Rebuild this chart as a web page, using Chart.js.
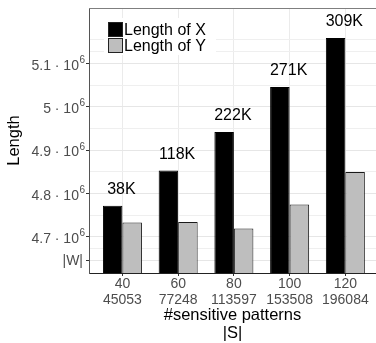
<!DOCTYPE html>
<html>
<head>
<meta charset="utf-8">
<script src="https://cdn.jsdelivr.net/npm/chart.js@4.4.1/dist/chart.umd.min.js"></script>
<style>
  html, body { margin: 0; padding: 0; background: #fff; overflow: hidden; }
  #wrap { width: 376px; height: 343px; }
</style>
</head>
<body>
<div id="wrap"><canvas id="chart" width="376" height="343"></canvas></div>
<script>
// data
const categories = ['40', '60', '80', '100', '120'];
const sizesW = ['45053', '77248', '113597', '153508', '196084'];
const lengthX = [4771400, 4853000, 4941600, 5045400, 5158500];
const lengthY = [4732900, 4733800, 4719000, 4774400, 4849200];
const barLabels = ['38K', '118K', '222K', '271K', '309K'];
const seriesNames = ['Length of X', 'Length of Y'];

// y axis: |W| is an extra break at the bottom
const W = 4644000;
const yMajor = [W, 4700000, 4800000, 4900000, 5000000, 5100000];
const yTickText = ['|W|', '4.7 \u00b7 10', '4.8 \u00b7 10', '4.9 \u00b7 10', '5 \u00b7 10', '5.1 \u00b7 10'];
const yTickExp = ['', '6', '6', '6', '6', '6'];
const yMinor = [4672000, 4750000, 4850000, 4950000, 5050000, 5128000, 5156000];

const FONT = '"Liberation Sans", Arial, sans-serif';
const tickGray = '#4d4d4d';

const xs = categories.map((c, i) => i);

// y tick labels with a raised exponent
const yLabelPlugin = {
  id: 'yLabels',
  afterDraw(chart) {
    const ctx = chart.ctx;
    const y = chart.scales.y;
    const left = chart.chartArea.left;
    ctx.save();
    ctx.fillStyle = tickGray;
    ctx.textAlign = 'right';
    ctx.textBaseline = 'middle';
    yMajor.forEach((v, i) => {
      const py = y.getPixelForValue(v);
      if (!yTickExp[i]) {
        ctx.font = '14px ' + FONT;
        ctx.fillText(yTickText[i], left - 6, py);
        return;
      }
      ctx.font = '10px ' + FONT;
      ctx.fillText(yTickExp[i], left - 4, py - 3);
      const sw = ctx.measureText(yTickExp[i]).width;
      ctx.font = '14px ' + FONT;
      ctx.fillText(yTickText[i], left - 4 - sw - 0.5, py + 2.5);
    });
    ctx.restore();
  }
};

// value labels above the black bars, legend inside the panel, top border
const extrasPlugin = {
  id: 'extras',
  afterDatasetsDraw(chart) {
    const ctx = chart.ctx;
    const area = chart.chartArea;
    const meta = chart.getDatasetMeta(0);
    const x = chart.scales.x;
    ctx.save();
    ctx.fillStyle = '#000';
    ctx.font = '16px ' + FONT;
    ctx.textAlign = 'center';
    ctx.textBaseline = 'middle';
    meta.data.forEach((bar, i) => {
      ctx.fillText(barLabels[i], x.getPixelForValue(xs[i]) - 1, bar.y - 16);
    });

    // legend
    const lx = area.left + 19, ly = area.top + 14, key = 15;
    ctx.fillStyle = '#fff';
    ctx.fillRect(area.left + 15, area.top + 10, 112, 37);
    chart.data.datasets.forEach((ds, i) => {
      ctx.fillStyle = ds.backgroundColor;
      ctx.fillRect(lx, ly + i * (key + 1), key, key);
      ctx.strokeStyle = '#222';
      ctx.lineWidth = 1;
      ctx.strokeRect(lx + 0.5, ly + i * (key + 1) + 0.5, key - 1, key - 1);
      ctx.fillStyle = '#000';
      ctx.textAlign = 'left';
      ctx.fillText(ds.label, lx + key + 1, ly + i * (key + 1) + key / 2 + 1);
    });

    ctx.strokeStyle = '#7f7f7f';
    ctx.lineWidth = 1;
    ctx.beginPath();
    ctx.moveTo(area.left, area.top + 0.5);
    ctx.lineTo(area.right, area.top + 0.5);
    ctx.stroke();
    ctx.restore();
  }
};

new Chart(document.getElementById('chart'), {
  type: 'bar',
  data: {
    datasets: [
      {
        label: seriesNames[0],
        data: xs.map((v, i) => ({ x: v, y: lengthX[i] })),
        backgroundColor: '#000000',
        borderColor: '#000000',
        borderWidth: 1
      },
      {
        label: seriesNames[1],
        data: xs.map((v, i) => ({ x: v, y: lengthY[i] })),
        backgroundColor: '#bebebe',
        borderColor: '#1a1a1a',
        borderWidth: 1
      }
    ]
  },
  options: {
    responsive: false,
    animation: false,
    devicePixelRatio: 1,
    layout: { padding: { top: 8, right: 0, left: 0, bottom: 0 } },
    categoryPercentage: 0.7,
    barPercentage: 1.0,
    plugins: { legend: { display: false }, tooltip: { enabled: false } },
    scales: {
      x: {
        type: 'linear',
        offset: false,
        min: -0.6,
        max: 4.55,
        afterBuildTicks: s => { s.ticks = xs.map(v => ({ value: v })); },
        afterFit: s => { s.height = 70; },
        ticks: {
          callback: v => [categories[v], sizesW[v]],
          color: tickGray,
          font: { family: FONT, size: 14, lineHeight: 1.15 },
          padding: 0,
          maxRotation: 0,
          autoSkip: false
        },
        grid: { offset: false, color: '#ebebeb', tickColor: '#333', tickLength: 3 },
        border: { color: '#222', width: 1 },
        title: {
          display: true,
          text: ['#sensitive patterns', '|S|'],
          color: '#000',
          font: { family: FONT, size: 16.5, lineHeight: 1.1 },
          padding: { top: 0, bottom: 0 }
        }
      },
      y: {
        min: W - 27800,
        max: 5227800,
        afterBuildTicks: s => {
          s.ticks = yMajor.concat(yMinor).sort((a, b) => a - b).map(v => ({ value: v }));
        },
        afterFit: s => { s.width = 89; },
        ticks: { callback: () => '', padding: 0 },
        grid: {
          color: c => yMajor.includes(c.tick.value) ? '#e6e6e6' : '#efefef',
          tickColor: c => yMajor.includes(c.tick.value) ? '#333' : 'rgba(0,0,0,0)',
          tickLength: 3
        },
        border: { color: '#555', width: 1 },
        title: {
          display: true,
          text: 'Length',
          color: '#000',
          font: { family: FONT, size: 16.5, lineHeight: 1.2 },
          padding: { top: 5, bottom: 0 }
        }
      }
    }
  },
  plugins: [yLabelPlugin, extrasPlugin]
});
</script>
</body>
</html>
